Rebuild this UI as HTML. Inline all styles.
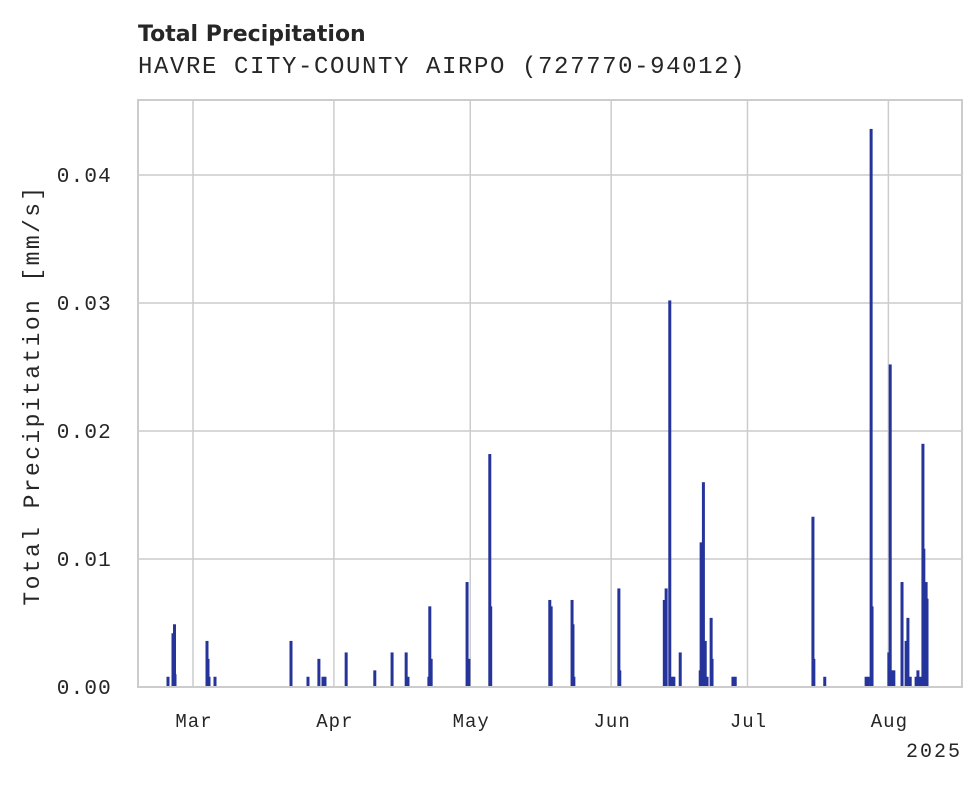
<!DOCTYPE html>
<html><head><meta charset="utf-8"><style>
body{margin:0;background:#fff}
svg text{fill:#262626}
</style></head><body>
<svg width="980" height="783" xmlns="http://www.w3.org/2000/svg">
<text x="138" y="41" font-family="DejaVu Sans, sans-serif" font-weight="bold" font-size="22">Total Precipitation</text>
<text x="138" y="73" font-family="Liberation Mono, monospace" font-size="24" letter-spacing="1.6">HAVRE CITY-COUNTY AIRPO (727770-94012)</text>
<g id="grid"></g>
<g id="bars"></g>
<rect x="138" y="100" width="824" height="587" fill="none" stroke="#cccccc" stroke-width="2"/>
<g id="ticks"></g>
<text transform="translate(39,395) rotate(-90)" text-anchor="middle" font-family="Liberation Mono, monospace" font-size="23" letter-spacing="2.4">Total Precipitation [mm/s]</text>
<text x="962" y="757" text-anchor="end" font-family="Liberation Mono, monospace" font-size="20" letter-spacing="2">2025</text>
</svg>
<script>
// days since Mar 1 2025
const monthLabels=["Mar","Apr","May","Jun","Jul","Aug"];
const monthDays=[0,31,61,92,122,153];
const yTicks=[0,0.01,0.02,0.03,0.04];
const yTickLabels=["0.00","0.01","0.02","0.03","0.04"];
const eventDays=[-5.5,-4.4,-4.07,-3.96,3.08,3.3,3.52,4.84,21.56,25.3,27.7,28.6,29.04,33.7,40.0,43.8,46.9,47.3,51.9,52.1,52.4,60.3,60.7,65.3,65.5,78.5,78.8,83.4,83.6,83.8,93.7,93.9,103.7,104.1,104.9,105.4,105.8,107.2,111.6,111.8,112.3,112.7,113.1,114.0,114.2,118.8,119.3,136.4,136.6,139.0,148.1,148.6,149.2,149.4,153.1,153.4,153.8,154.2,156.0,156.9,157.3,157.8,159.1,159.5,160.0,160.6,160.8,161.3,161.5];
const precipValues=[0.0008,0.0042,0.0049,0.001,0.0036,0.0022,0.0008,0.0008,0.0036,0.0008,0.0022,0.0008,0.0008,0.0027,0.0013,0.0027,0.0027,0.0008,0.0008,0.0063,0.0022,0.0082,0.0022,0.0182,0.0063,0.0068,0.0063,0.0068,0.0049,0.0008,0.0077,0.0013,0.0068,0.0077,0.0302,0.0008,0.0008,0.0027,0.0013,0.0113,0.016,0.0036,0.0008,0.0054,0.0022,0.0008,0.0008,0.0133,0.0022,0.0008,0.0008,0.0008,0.0436,0.0063,0.0027,0.0252,0.0013,0.0013,0.0082,0.0036,0.0054,0.0008,0.0008,0.0013,0.0008,0.019,0.0108,0.0082,0.0069];
const NS="http://www.w3.org/2000/svg";
const X=d=>193+d*4.545;
const Y=v=>687-v*12800;
function mk(t,a){const e=document.createElementNS(NS,t);for(const k in a)e.setAttribute(k,a[k]);return e;}
const grid=document.getElementById('grid'),bars=document.getElementById('bars'),ticks=document.getElementById('ticks');
yTicks.forEach((v,i)=>{
  const l=mk('line',{x1:138,x2:962,y1:Y(v),y2:Y(v),stroke:'#cccccc','stroke-width':1.5});
  
  
  grid.appendChild(l);
  const t=mk('text',{x:112,y:Y(v)+7,'text-anchor':'end','font-family':'Liberation Mono, monospace','font-size':21,'letter-spacing':1.2});
  t.textContent=yTickLabels[i];
  
  
  ticks.appendChild(t);
});
monthDays.forEach((d,i)=>{
  const l=mk('line',{x1:X(d),x2:X(d),y1:100,y2:687,stroke:'#cccccc','stroke-width':1.5});
  
  
  grid.appendChild(l);
  const t=mk('text',{x:X(d)+1,y:727,'text-anchor':'middle','font-family':'Liberation Mono, monospace','font-size':19,'letter-spacing':1});
  t.textContent=monthLabels[i];
  
  
  ticks.appendChild(t);
});
eventDays.forEach((d,i)=>{
  const v=precipValues[i];
  const r=mk('rect',{x:X(d)-1.5,y:Y(v),width:3,height:687-Y(v),fill:'#25349a'});
  
  
  bars.appendChild(r);
});
</script>
</body></html>
